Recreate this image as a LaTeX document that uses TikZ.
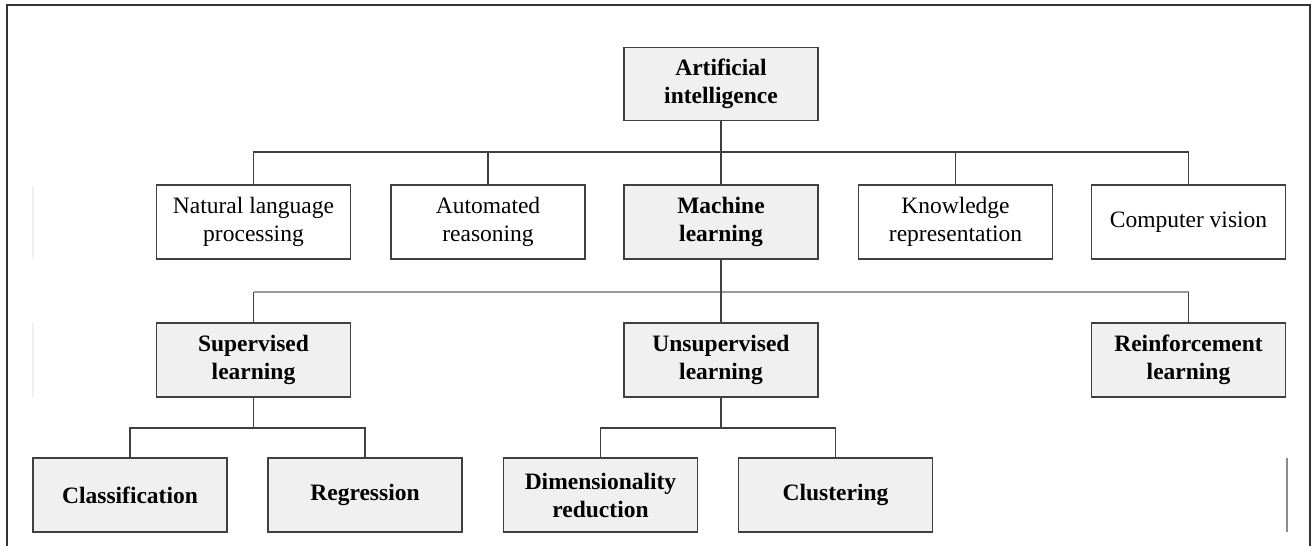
\documentclass[tikz,border=0pt]{standalone}
\usepackage{fontspec}
\setmainfont{Liberation Serif}
\begin{document}
\begin{tikzpicture}[x=1pt,y=-1pt,
  box/.style={draw=black!75, line width=1.6pt, minimum width=194pt, minimum height=74pt,
    inner sep=0pt, align=center, fill=white, font=\fontsize{23.5}{28}\selectfont},
  gbox/.style={box, fill=black!6, font=\fontsize{23.5}{28}\selectfont\bfseries},
  link/.style={draw=black!75, line width=1.6pt},
  lightlink/.style={draw=black!40, line width=1.1pt},
  frame/.style={draw=black!80, line width=1.6pt},
  faint/.style={draw=black!6, line width=1.5pt}]
\useasboundingbox (0,0) rectangle (1315,546);
% frame
\draw[frame] (7,546) -- (7,5) -- (1310,5) -- (1310,546);
% faint marks
\draw[faint] (33,186) -- (33,259);
\draw[faint] (33,323) -- (33,397);
\draw[draw=black!45, line width=1.5pt] (1287,458) -- (1287,532);
% nodes
\node[gbox, minimum height=73pt] (ai) at (721,84) {Artificial\\intelligence};
\node[box]  (nlp) at (253.5,222) {Natural language\\processing};
\node[box]  (ar)  at (488,222) {Automated\\reasoning};
\node[gbox] (ml)  at (721,222) {Machine\\learning};
\node[box]  (kr)  at (955.5,222) {Knowledge\\representation};
\node[box]  (cv)  at (1188.5,222) {Computer vision};
\node[gbox] (sup)   at (253.5,360) {Supervised\\learning};
\node[gbox] (unsup) at (721,360) {Unsupervised\\learning};
\node[gbox] (rein)  at (1188.5,360) {Reinforcement\\learning};
\node[gbox] (cls) at (130,495) {Classification};
\node[gbox] (reg) at (365,495) {Regression};
\node[gbox] (dim) at (600.5,495) {Dimensionality\\reduction};
\node[gbox] (clu) at (835.5,495) {Clustering};
% buses
\coordinate (b1) at (721,152);
\coordinate (b2) at (721,292);
\coordinate (b3) at (253.5,428);
\coordinate (b4) at (721,428);
% connectors
\draw[link] (ai.south) -- (b1) -- (ml.north);
\draw[link] (nlp.north) |- (b1) -| (cv.north);
\draw[link] (ar.north) -- (ar.north |- b1);
\draw[link] (kr.north) -- (kr.north |- b1);
\draw[lightlink] (sup.north |- b2) -- (rein.north |- b2);
\draw[link] (ml.south) -- (unsup.north);
\draw[link] (sup.north) -- (sup.north |- b2);
\draw[link] (rein.north) -- (rein.north |- b2);
\draw[link] (sup.south) -- (b3);
\draw[link] (cls.north) |- (b3) -| (reg.north);
\draw[link] (unsup.south) -- (b4);
\draw[link] (dim.north) |- (b4) -| (clu.north);
\end{tikzpicture}
\end{document}
